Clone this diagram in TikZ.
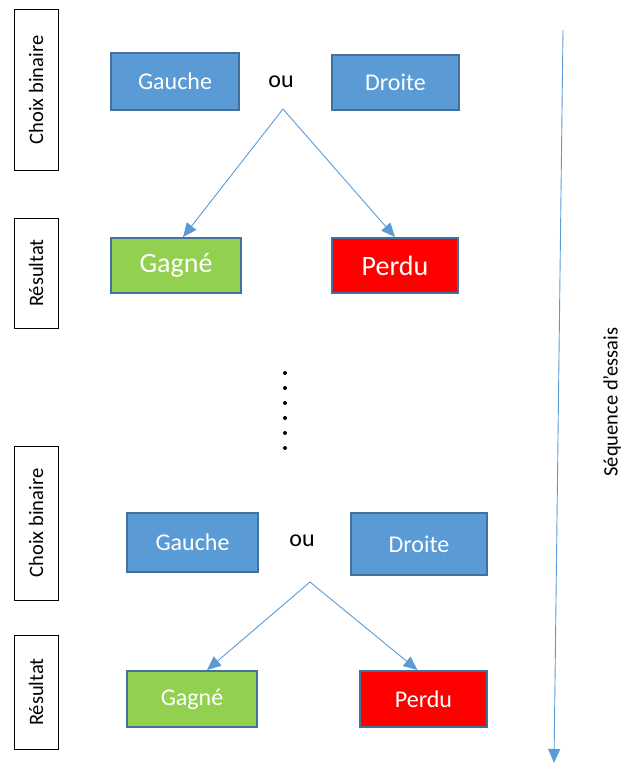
\documentclass[tikz,border=0pt]{standalone}
\usepackage{fontspec}
\setmainfont{Carlito}
\usetikzlibrary{arrows.meta}
\definecolor{bleu}{HTML}{5B9BD5}
\definecolor{bord}{HTML}{41719C}
\definecolor{vert}{HTML}{92D050}
\begin{document}
\begin{tikzpicture}[x=1pt,y=-1pt,
        box/.style = {draw=bord, line width=1.8pt, inner sep=0pt, text=white, font=\fontsize{24}{28}\selectfont},
        choix/.style = {box, fill=bleu},
        side/.style = {draw, line width=1pt, inner sep=0pt, minimum width=44pt, rotate=90, font=\fontsize{20.5}{24}\selectfont},
        fl/.style = {draw=bleu, line width=0.9pt, -{Triangle[length=14pt,width=12pt]}},
        pt/.style = {circle, fill, inner sep=0pt, minimum size=4pt}]
        \useasboundingbox (0,0) rectangle (623,765);
        % premier essai
        \node[side, minimum height=44pt, minimum width=161pt] (cb1) at (36,90) {Choix binaire};
        \node[side, minimum height=44pt, minimum width=110pt] (r1) at (36,273) {Résultat};
        \node[choix, minimum width=128pt, minimum height=57pt] (ga1) at (175,81.5) {Gauche};
        \node[font=\fontsize{24}{28}\selectfont] (ou1) at (281,82) {ou};
        \node[choix, minimum width=127pt, minimum height=55pt] (dr1) at (395.5,82.5) {Droite};
        \node[box, fill=vert, minimum width=130pt, minimum height=55pt, font=\fontsize{28}{32}\selectfont] (gg1) at (176,265.5) {Gagné};
        \node[box, fill=red, minimum width=126pt, minimum height=55pt, font=\fontsize{28}{32}\selectfont] (pe1) at (395,265.5) {Perdu};
        \coordinate (a1) at (283,109);
        \draw[fl] (a1) -- ([xshift=7pt]gg1.north);
        \draw[fl] (a1) -- (pe1.north);
        % points de suspension
        \foreach \i in {0,...,5}
            \node[pt] (p\i) at (285,373+15*\i) {};
        % dernier essai
        \node[side, minimum height=44pt, minimum width=154pt] (cb2) at (36,523) {Choix binaire};
        \node[side, minimum height=44pt, minimum width=114pt] (r2) at (36,692) {Résultat};
        \node[choix, minimum width=131pt, minimum height=59pt] (ga2) at (192.5,542.5) {Gauche};
        \node[font=\fontsize{24}{28}\selectfont] (ou2) at (302,541) {ou};
        \node[choix, minimum width=136pt, minimum height=62pt] (dr2) at (419,544) {Droite};
        \node[box, fill=vert, minimum width=130pt, minimum height=56pt] (gg2) at (192,699) {Gagné};
        \node[box, fill=red, minimum width=127pt, minimum height=56pt] (pe2) at (423.5,699) {Perdu};
        \coordinate (a2) at (310,582);
        \draw[fl] (a2) -- ([xshift=15pt]gg2.north);
        \draw[fl] (a2) -- ([xshift=-6pt]pe2.north);
        % axe du temps
        \coordinate (t0) at (563,30);
        \coordinate (t1) at (554,763);
        \draw[fl] (t0) -- (t1);
        \node[rotate=90, font=\fontsize{20.5}{24}\selectfont] (seq) at (612,402) {Séquence d’essais};
\end{tikzpicture}
\end{document}
